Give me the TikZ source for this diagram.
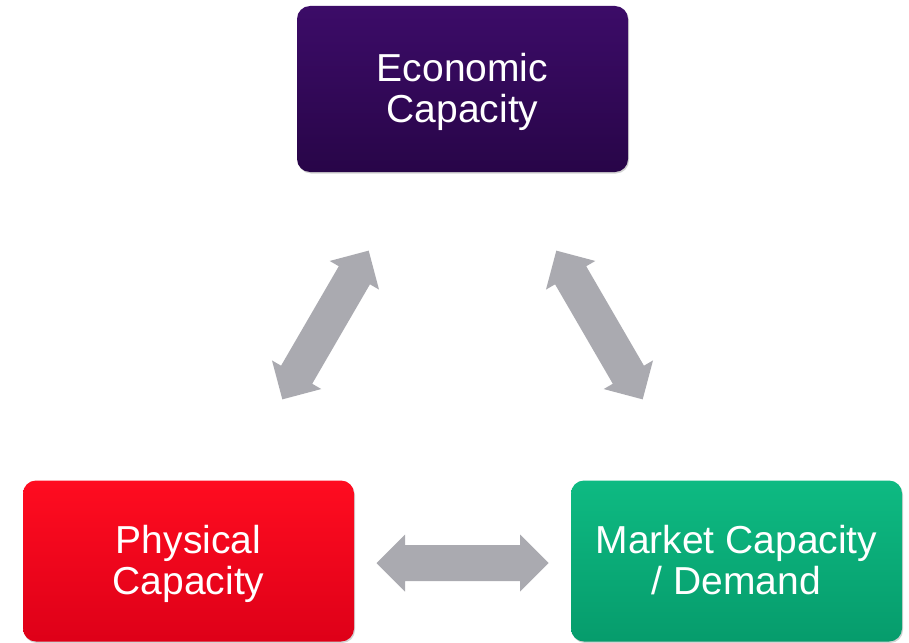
\documentclass[tikz,border=0pt]{standalone}
\usepackage{fontspec}
\setmainfont{Liberation Sans}
\usetikzlibrary{calc,shadows}

\definecolor{purpletop}{RGB}{60,12,104}
\definecolor{purplebot}{RGB}{40,5,72}
\definecolor{redtop}{RGB}{255,12,32}
\definecolor{redbot}{RGB}{222,0,24}
\definecolor{greentop}{RGB}{14,186,130}
\definecolor{greenbot}{RGB}{6,156,108}
\definecolor{arrowgrey}{RGB}{170,170,176}

% fixed line extents so every label sits at the same height in its box
\newcommand\topline[1]{\rule{0pt}{35pt}#1}
\newcommand\botline[1]{#1\rule[-9pt]{0pt}{0pt}}

\tikzset{
  capbox/.style={
    rounded corners=13pt, minimum width=331pt, inner sep=0pt,
    text=white, align=center,
    font=\fontsize{39}{41}\selectfont,
    drop shadow={shadow xshift=1pt, shadow yshift=-1.5pt, opacity=0.35}
  },
  arrowbody/.style={fill=arrowgrey}
}

% Double-headed block arrow between two tips #1 and #2
\newcommand\twowayarrow[2]{%
  \coordinate (#1b) at ($(#1)!28.5pt!(#2)$);
  \coordinate (#2b) at ($(#2)!28.5pt!(#1)$);
  \fill[arrowbody] (#1)
    -- ($(#1b)!28.5pt!90:(#2)$) -- ($(#1b)!18pt!90:(#2)$)
    -- ($(#2b)!18pt!-90:(#1)$) -- ($(#2b)!28.5pt!-90:(#1)$)
    -- (#2)
    -- ($(#2b)!28.5pt!90:(#1)$) -- ($(#2b)!18pt!90:(#1)$)
    -- ($(#1b)!18pt!-90:(#2)$) -- ($(#1b)!28.5pt!-90:(#2)$)
    -- cycle;
}

\begin{document}
\begin{tikzpicture}[x=1pt,y=-1pt]
  \useasboundingbox[fill=white] (0,0) rectangle (909,642);

  \node[capbox, minimum height=166pt, top color=purpletop, bottom color=purplebot]
    (econ) at (462.5,89) {\topline{Economic}\\\botline{Capacity}};
  \node[capbox, minimum height=161pt, top color=redtop, bottom color=redbot]
    (phys) at (188.5,561) {\topline{Physical}\\\botline{Capacity}};
  \node[capbox, minimum height=161pt, top color=greentop, bottom color=greenbot]
    (market) at (736.5,561) {\topline{Market Capacity}\\\botline{/ Demand}};

  % arrow tips placed symmetrically about the midpoint between boxes
  \coordinate (lm) at ($(econ)!0.5!(phys)$);
  \coordinate (lt) at ($(lm)!86pt!(econ)$);
  \coordinate (lb) at ($(lm)!86pt!(phys)$);
  \twowayarrow{lt}{lb}

  \coordinate (rm) at ($(econ)!0.5!(market)$);
  \coordinate (rt) at ($(rm)!86pt!(econ)$);
  \coordinate (rb) at ($(rm)!86pt!(market)$);
  \twowayarrow{rt}{rb}

  \coordinate (hm) at ($(phys)!0.5!(market)+(0,2)$);
  \coordinate (hl) at ($(hm)!86pt!(phys.center |- hm)$);
  \coordinate (hr) at ($(hm)!86pt!(market.center |- hm)$);
  \twowayarrow{hl}{hr}
\end{tikzpicture}
\end{document}
